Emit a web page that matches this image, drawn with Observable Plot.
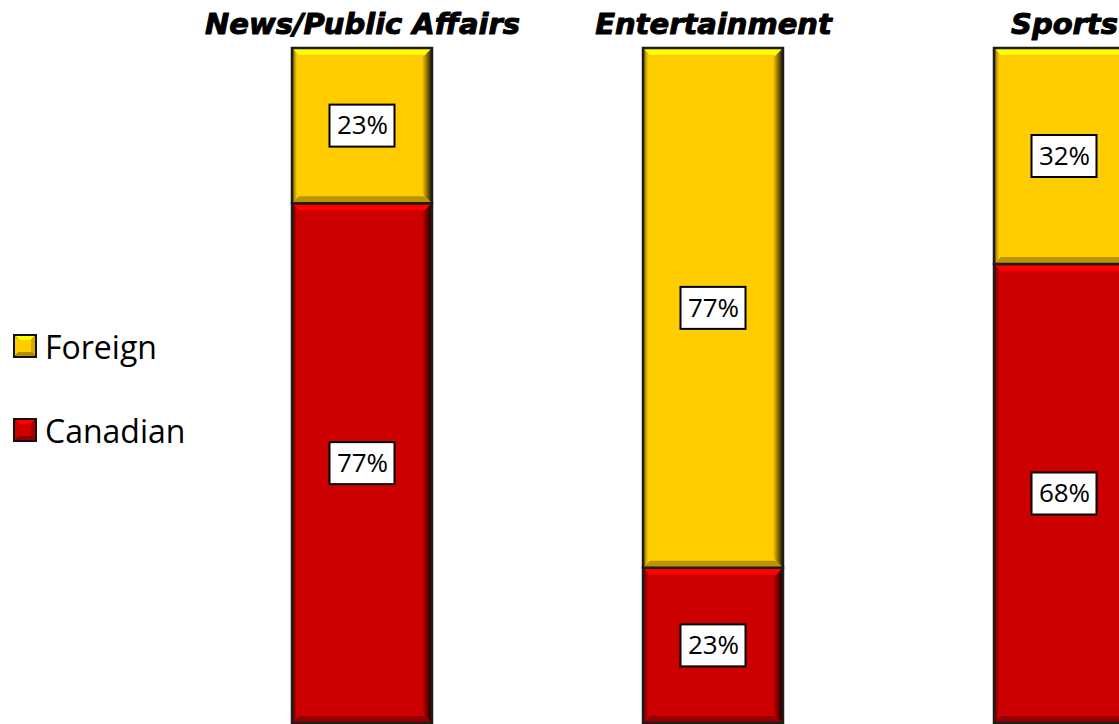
<!DOCTYPE html>
<html>
<head>
<meta charset="utf-8">
<script src="https://cdn.jsdelivr.net/npm/d3@7"></script>
<script src="https://cdn.jsdelivr.net/npm/@observablehq/plot@0.6"></script>
<style>
  html, body { margin: 0; padding: 0; background: #fff; overflow: hidden; }
  #wrap { position: relative; width: 1119px; height: 724px; }
  #legend { position: absolute; left: 13px; top: 0; font-family: "Open Sans", sans-serif; font-size: 32px; color: #000; }
  .item { position: absolute; left: 0; display: flex; align-items: center; white-space: nowrap; height: 40px; }
  .item svg { margin-right: 8px; flex: none; }
</style>
</head>
<body>
<div id="wrap">
  <div id="chart"></div>
  <div id="legend"></div>
</div>
<script>
// Share of viewing by program origin, per program type
const programs = ["News/Public Affairs", "Entertainment", "Sports"];
const canadianShare = [77, 23, 68];
const foreignShare = [23, 77, 32];
const origins = ["Foreign", "Canadian"];
const originColors = ["#ffcc00", "#cc0000"];
const stackOrder = ["Canadian", "Foreign"];

const rows = programs.flatMap((program, i) => [
  {program, origin: "Canadian", share: canadianShare[i]},
  {program, origin: "Foreign", share: foreignShare[i]}
]);

// Adds a bevelled edge (light top, dark bottom and sides) to each bar rect
function bevel(index, scales, values, dimensions, context, next) {
  const g = next(index, scales, values, dimensions, context);
  const sel = d3.select(g);
  const defs = sel.append("defs");
  const gr = defs.append("linearGradient").attr("id", "bev-right").attr("x1", 0).attr("x2", 1).attr("y1", 0).attr("y2", 0);
  gr.append("stop").attr("offset", 0).attr("stop-color", "#000").attr("stop-opacity", 0);
  gr.append("stop").attr("offset", 1).attr("stop-color", "#000").attr("stop-opacity", 0.9);
  const gl = defs.append("linearGradient").attr("id", "bev-left").attr("x1", 0).attr("x2", 1).attr("y1", 0).attr("y2", 0);
  gl.append("stop").attr("offset", 0).attr("stop-color", "#000").attr("stop-opacity", 0.55);
  gl.append("stop").attr("offset", 1).attr("stop-color", "#000").attr("stop-opacity", 0);
  const d = 7;
  sel.selectAll("rect").each(function() {
    const r = d3.select(this);
    const x = +r.attr("x"), y = +r.attr("y"), w = +r.attr("width"), h = +r.attr("height");
    const fill = r.attr("fill");
    const parent = d3.select(this.parentNode);
    const poly = (pts, f) => parent.append("polygon").attr("points", pts.map(p => p.join(",")).join(" ")).attr("fill", f);
    poly([[x, y], [x + w, y], [x + w - d, y + d], [x + d, y + d]], d3.color(fill).brighter(0.6).formatHex());
    poly([[x, y + h], [x + w, y + h], [x + w - d, y + h - d], [x + d, y + h - d]], d3.color(fill).darker(0.9).formatHex());
    poly([[x, y], [x + 5, y + 5], [x + 5, y + h - 5], [x, y + h]], "url(#bev-left)");
    poly([[x + w, y], [x + w - 10, y + 10], [x + w - 10, y + h - 10], [x + w, y + h]], "url(#bev-right)");
    parent.append("rect").attr("x", x).attr("y", y).attr("width", w).attr("height", h)
      .attr("fill", "none").attr("stroke", "#1c1c1c").attr("stroke-width", 2.5);
  });
  return g;
}

// Draws a white, black-outlined box behind each value label
function boxed(index, scales, values, dimensions, context, next) {
  const g = d3.create("svg:g");
  const bx = scales.x && scales.x.bandwidth ? scales.x.bandwidth() / 2 : 0;
  for (const i of index) {
    g.append("rect")
      .attr("x", values.x[i] + bx - 32.5).attr("y", values.y[i] - 21)
      .attr("width", 65).attr("height", 42)
      .attr("fill", "#fff").attr("stroke", "#000").attr("stroke-width", 2);
  }
  g.append(() => next(index, scales, values, dimensions, context));
  return g.node();
}

const chart = Plot.plot({
  width: 1119,
  height: 724,
  marginTop: 48,
  marginBottom: 1,
  marginLeft: 0,
  marginRight: 0,
  x: {domain: programs, range: [81, 1345], padding: 0.6, axis: null},
  y: {domain: [0, 100], axis: null},
  color: {domain: origins, range: originColors},
  marks: [
    Plot.barY(rows, {x: "program", y: "share", fill: "origin", order: stackOrder, render: bevel}),
    Plot.text(rows, Plot.stackY({
      x: "program", y: "share", z: "origin", order: stackOrder,
      text: d => `${d.share}%`,
      fontFamily: "Open Sans", fontSize: 26, fill: "#000",
      render: boxed
    })),
    Plot.text(programs, {
      x: d => d, frameAnchor: "top", lineAnchor: "bottom", dy: -15,
      text: d => d,
      fontFamily: "DejaVu Sans", fontWeight: "bold", fontStyle: "italic", fontSize: 29,
      fill: "#000", stroke: "#000", strokeWidth: 1
    })
  ]
});
document.getElementById("chart").appendChild(chart);

// Legend with small bevelled swatches
const legendTops = {Foreign: 326, Canadian: 410};
const legend = d3.select("#legend");
origins.forEach((name, i) => {
  const c = d3.color(originColors[i]);
  const item = legend.append("div").attr("class", "item").style("top", legendTops[name] + "px");
  const s = item.append("svg").attr("width", 24).attr("height", 24);
  s.append("rect").attr("width", 24).attr("height", 24).attr("fill", "#111");
  s.append("polygon").attr("points", "2,2 22,2 12,12").attr("fill", c.brighter(0.7).formatHex());
  s.append("polygon").attr("points", "2,2 12,12 2,22").attr("fill", c.formatHex());
  s.append("polygon").attr("points", "22,2 22,22 12,12").attr("fill", c.darker(0.5).formatHex());
  s.append("polygon").attr("points", "2,22 22,22 12,12").attr("fill", c.darker(1).formatHex());
  s.append("rect").attr("x", 6).attr("y", 6).attr("width", 12).attr("height", 12).attr("fill", c.formatHex());
  item.append("span").text(name);
});
</script>
</body>
</html>
